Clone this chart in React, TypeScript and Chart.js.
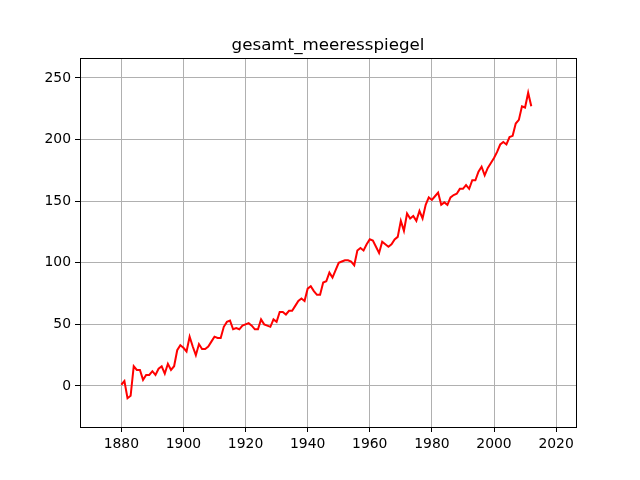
import React, { useEffect, useRef } from "react";
import { Chart, registerables } from "chart.js";

Chart.register(...registerables);

const TITLE = "gesamt_meeresspiegel";

const years = [
  1880, 1881, 1882, 1883, 1884, 1885, 1886, 1887, 1888, 1889,
  1890, 1891, 1892, 1893, 1894, 1895, 1896, 1897, 1898, 1899,
  1900, 1901, 1902, 1903, 1904, 1905, 1906, 1907, 1908, 1909,
  1910, 1911, 1912, 1913, 1914, 1915, 1916, 1917, 1918, 1919,
  1920, 1921, 1922, 1923, 1924, 1925, 1926, 1927, 1928, 1929,
  1930, 1931, 1932, 1933, 1934, 1935, 1936, 1937, 1938, 1939,
  1940, 1941, 1942, 1943, 1944, 1945, 1946, 1947, 1948, 1949,
  1950, 1951, 1952, 1953, 1954, 1955, 1956, 1957, 1958, 1959,
  1960, 1961, 1962, 1963, 1964, 1965, 1966, 1967, 1968, 1969,
  1970, 1971, 1972, 1973, 1974, 1975, 1976, 1977, 1978, 1979,
  1980, 1981, 1982, 1983, 1984, 1985, 1986, 1987, 1988, 1989,
  1990, 1991, 1992, 1993, 1994, 1995, 1996, 1997, 1998, 1999,
  2000, 2001, 2002, 2003, 2004, 2005, 2006, 2007, 2008, 2009,
  2010, 2011, 2012,
];

const seaLevel = [
  1, 4, -10, -8, 16, 13, 13, 5, 9, 9,
  12, 9, 14, 16, 10, 18, 13, 16, 29, 33,
  31, 28, 40, 32, 25, 34, 30, 30, 32, 36,
  40, 39, 39, 48, 52, 53, 46, 47, 46, 49,
  50, 51, 49, 46, 46, 54, 50, 49, 48, 54,
  52, 60, 60, 58, 61, 61, 65, 69, 71, 69,
  79, 81, 77, 74, 74, 84, 85, 92, 88, 94,
  100, 101, 102, 102, 101, 98, 110, 112, 110, 115,
  119, 118, 113, 108, 117, 115, 113, 115, 119, 121,
  134, 126, 140, 136, 138, 134, 142, 136, 147, 153,
  151, 154, 157, 147, 149, 147, 153, 155, 156, 160,
  160, 163, 160, 167, 167, 174, 178, 171, 177, 181,
  185, 190, 196, 198, 196, 202, 203, 213, 216, 227,
  226, 238, 227,
];

const xTicks = [1880, 1900, 1920, 1940, 1960, 1980, 2000, 2020];
const yTicks = [0, 50, 100, 150, 200, 250];

const FONT = "'DejaVu Sans', sans-serif";

export default function App() {
  const ref = useRef<HTMLCanvasElement | null>(null);

  useEffect(() => {
    const canvas = ref.current;
    if (!canvas) return;

    const framePlugin = {
      id: "frameAndTitle",
      afterDraw(chart: any) {
        const { ctx, chartArea } = chart;
        const { left, top, right, bottom } = chartArea;
        ctx.save();
        ctx.strokeStyle = "#000000";
        ctx.lineWidth = 1;
        ctx.strokeRect(
          Math.round(left) + 0.5,
          Math.round(top) + 0.5,
          Math.round(right) - Math.round(left),
          Math.round(bottom) - Math.round(top)
        );
        ctx.fillStyle = "#000000";
        ctx.font = `16.7px ${FONT}`;
        ctx.textAlign = "center";
        ctx.textBaseline = "alphabetic";
        ctx.fillText(TITLE, (left + right) / 2, top - 8);
        ctx.restore();
      },
    };

    const chart = new Chart(canvas, {
      type: "line",
      data: {
        datasets: [
          {
            label: TITLE,
            data: years.map((y, i) => ({ x: y, y: seaLevel[i] })),
            borderColor: "#ff0000",
            backgroundColor: "#ff0000",
            borderWidth: 2,
            pointRadius: 0,
            tension: 0,
            fill: false,
          },
        ],
      },
      options: {
        responsive: false,
        animation: false,
        devicePixelRatio: 1,
        layout: { padding: { left: 0, right: 64, top: 58, bottom: 0 } },
        plugins: {
          legend: { display: false },
          title: { display: false },
          tooltip: { enabled: false },
        },
        scales: {
          x: {
            type: "linear",
            min: 1866.7,
            max: 2026.4,
            afterFit(scale: any) {
              scale.height = 53;
            },
            afterBuildTicks(scale: any) {
              scale.ticks = xTicks.map((v) => ({ value: v }));
            },
            ticks: {
              color: "#000000",
              font: { family: FONT, size: 13.9 },
              padding: 4,
              maxRotation: 0,
              autoSkip: false,
              callback: (v: any) => String(v),
            },
            grid: {
              color: "#b0b0b0",
              lineWidth: 1,
              tickLength: 5,
              tickColor: "#000000",
              drawTicks: true,
            },
            border: { display: false },
          },
          y: {
            type: "linear",
            min: -33.3,
            max: 266.2,
            afterFit(scale: any) {
              scale.width = 80;
            },
            afterBuildTicks(scale: any) {
              scale.ticks = yTicks.map((v) => ({ value: v }));
            },
            ticks: {
              color: "#000000",
              font: { family: FONT, size: 13.9 },
              padding: 4,
              autoSkip: false,
              callback: (v: any) => String(v),
            },
            grid: {
              color: "#b0b0b0",
              lineWidth: 1,
              tickLength: 5,
              tickColor: "#000000",
              drawTicks: true,
            },
            border: { display: false },
          },
        },
      },
      plugins: [framePlugin],
    });

    return () => chart.destroy();
  }, []);

  return (
    <div style={{ position: "absolute", left: 0, top: 0, width: 640, height: 480, background: "#ffffff" }}>
      <canvas ref={ref} width={640} height={480} style={{ display: "block" }} />
    </div>
  );
}
